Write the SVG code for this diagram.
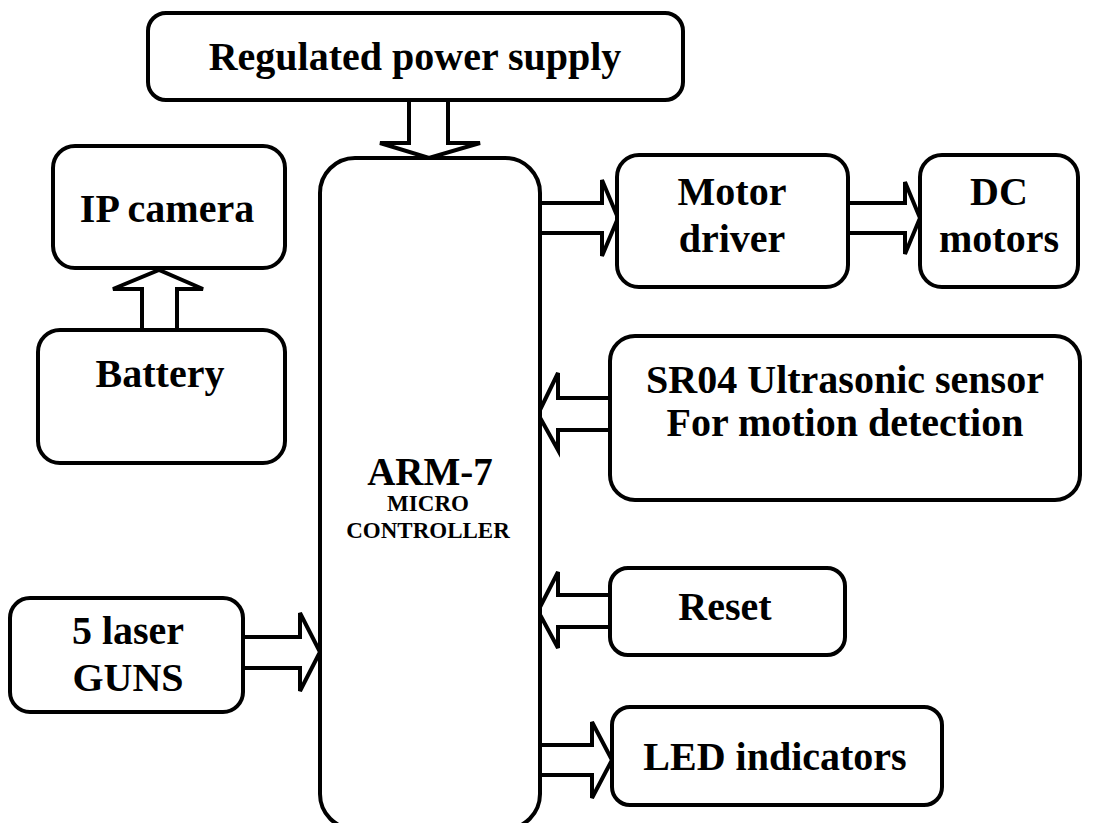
<svg xmlns="http://www.w3.org/2000/svg" width="1105" height="823" viewBox="0 0 1105 823">
<style>
.box{fill:#fff;stroke:#000;stroke-width:4}
.arr{fill:#fff;stroke:#000;stroke-width:4;stroke-linejoin:miter}
text{font-family:"Liberation Serif","Times New Roman",serif;font-weight:bold;fill:#000;text-anchor:middle}
.t{font-size:40px}
.s{font-size:23px}
</style>
<rect width="1105" height="823" fill="#fff"/>
<g id="connectors">
<path class="arr" d="M409,98 L409,143 L380,143 L429,158 L480,143 L448,143 L448,98"/>
<path class="arr" d="M142,332 L142,289 L113,289 L159,270 L203,289 L177,289 L177,332"/>
<path class="arr" d="M538,203 L602,203 L602,180 L618,218 L602,256 L602,233 L538,233"/>
<path class="arr" d="M846,203 L905,203 L905,182 L920,218 L905,254 L905,233 L846,233"/>
<path class="arr" d="M612,398 L558,398 L558,373 L538,414 L558,450 L558,430 L612,430"/>
<path class="arr" d="M612,595 L558,595 L558,572 L538,611 L558,648 L558,627 L612,627"/>
<path class="arr" d="M241,637 L300,637 L300,613 L320,652 L300,691 L300,668 L241,668"/>
<path class="arr" d="M538,745 L592,745 L592,722 L612,760 L592,798 L592,775 L538,775"/>
</g>
<g id="power"><rect class="box" x="148" y="13" width="535" height="87" rx="18"/><text class="t" x="415" y="70">Regulated power supply</text></g>
<g id="arm"><rect class="box" x="320" y="158" width="220" height="671" rx="35"/><text x="430" y="485" font-size="39px">ARM-7</text><text class="s" x="428" y="511">MICRO</text><text class="s" x="428" y="538">CONTROLLER</text></g>
<g id="camera"><rect class="box" x="53" y="146" width="232" height="122" rx="22"/><text class="t" x="167" y="222">IP camera</text></g>
<g id="battery"><rect class="box" x="38" y="330" width="247" height="133" rx="22"/><text class="t" x="160" y="387">Battery</text></g>
<g id="motordriver"><rect class="box" x="617" y="155" width="231" height="132" rx="22"/><text class="t" x="732" y="205">Motor</text><text class="t" x="732" y="252">driver</text></g>
<g id="dcmotors"><rect class="box" x="920" y="155" width="158" height="132" rx="22"/><text class="t" x="999" y="205">DC</text><text class="t" x="999" y="252">motors</text></g>
<g id="sr04"><rect class="box" x="610" y="336" width="470" height="164" rx="25"/><text class="t" x="845" y="393">SR04 Ultrasonic sensor</text><text class="t" x="845" y="436">For motion detection</text></g>
<g id="reset"><rect class="box" x="610" y="568" width="235" height="87" rx="18"/><text class="t" x="725" y="620">Reset</text></g>
<g id="laser"><rect class="box" x="10" y="598" width="233" height="114" rx="20"/><text class="t" x="128" y="644">5 laser</text><text class="t" x="128" y="691">GUNS</text></g>
<g id="led"><rect class="box" x="612" y="707" width="330" height="98" rx="18"/><text class="t" x="775" y="770">LED indicators</text></g>
</svg>
